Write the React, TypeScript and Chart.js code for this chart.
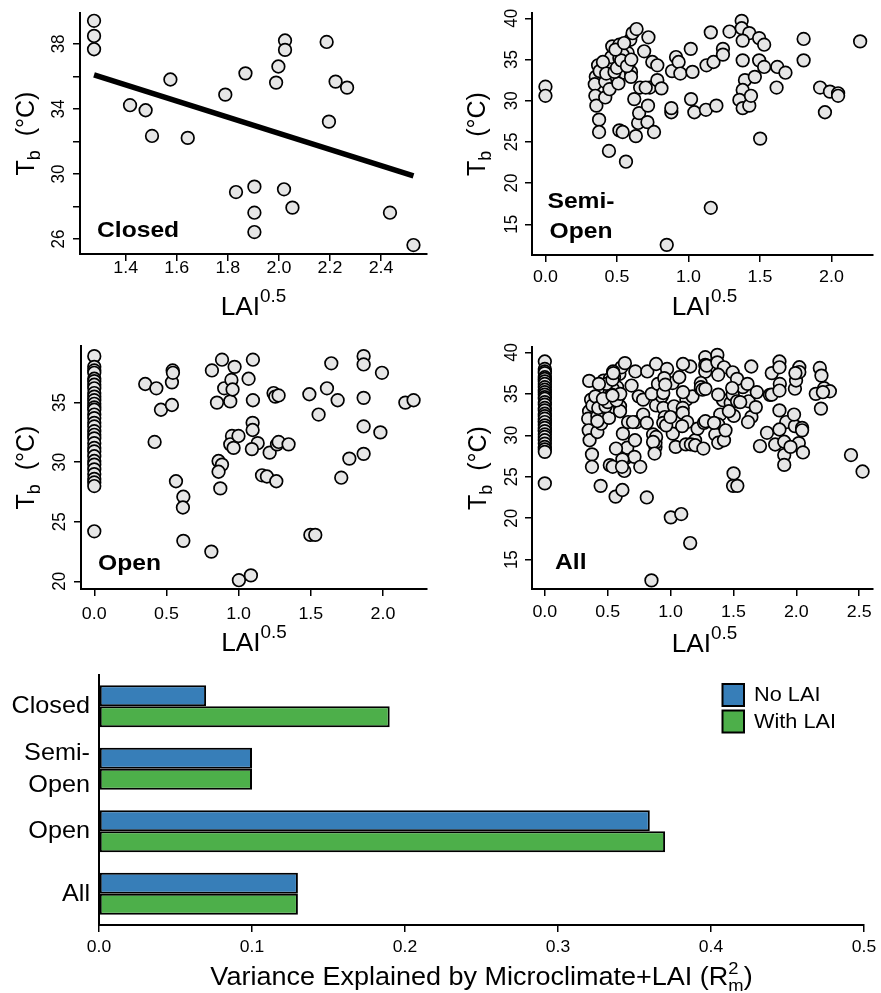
import React, { useEffect, useRef } from "react";
import { Chart, registerables } from "chart.js";
Chart.register(...registerables);

// ---------------- DATA ----------------
const closedLAI = [1.276, 1.276, 1.276, 1.417, 1.478, 1.503, 1.575, 1.643, 1.79, 1.869, 1.832, 1.904, 1.904, 1.904, 1.989, 1.998, 2.024, 2.024, 2.02, 2.053, 2.187, 2.222, 2.267, 2.196, 2.435, 2.527];
const closedTb = [39.42, 38.49, 37.67, 34.23, 33.92, 32.34, 35.81, 32.22, 34.88, 36.19, 28.89, 29.22, 27.62, 26.43, 35.62, 36.61, 38.21, 37.63, 29.06, 27.93, 38.12, 35.68, 35.31, 33.22, 27.62, 25.63];
const closedFitLAI = [1.276, 2.527];
const closedFitTb = [36.09, 29.88];

const semiLAI = [0, 0, 0.352, 0.345, 0.349, 0.356, 0.375, 0.375, 0.444, 0.563,
  0.368, 0.379, 0.418, 0.418, 0.448, 0.46, 0.46, 0.467, 0.517, 0.51,
  0.517, 0.54, 0.517, 0.552, 0.563, 0.586, 0.598, 0.593, 0.609, 0.637,
  0.575, 0.621, 0.632, 0.648, 0.655, 0.662, 0.69, 0.72, 0.717, 0.713,
  0.729, 0.747, 0.782, 0.759, 0.782, 0.811, 0.701, 0.885, 0.88, 0.88,
  0.913, 0.931, 0.943, 1.016, 1.028, 1.018, 1.041, 1.122, 1.126, 1.156,
  1.175, 1.195, 1.156, 0.848, 1.241, 1.241, 1.287, 1.372, 1.372, 1.425,
  1.379, 1.379, 1.395, 1.379, 1.356, 1.379, 1.425, 1.437, 1.464, 1.494,
  1.529, 1.494, 1.529, 1.501, 1.621, 1.678, 1.616, 1.805, 1.805, 1.92,
  1.989, 2.046, 2.046, 1.954, 2.2, 0.402, 0.425, 0.483, 0.54, 0.598,
  0.5, 0.53, 0.57, 0.6, 0.49, 0.55];
const semiTb = [31.7, 30.6, 32.9, 32.0, 30.6, 29.4, 27.7, 26.2, 23.9, 22.6,
  34.3, 33.6, 32.3, 30.4, 31.4, 34.1, 35.3, 36.6, 36.8, 32.1,
  26.4, 26.2, 35.2, 33.4, 35.1, 34.7, 33.5, 37.4, 38.2, 38.7,
  35.8, 30.2, 25.7, 27.3, 28.5, 31.6, 36.0, 37.7, 29.4, 27.4,
  31.6, 34.7, 34.3, 26.2, 32.5, 31.5, 31.6, 33.6, 28.6, 29.1,
  35.3, 34.7, 33.3, 36.3, 33.5, 30.2, 28.6, 28.9, 34.3, 38.3,
  34.7, 29.4, 17.0, 12.5, 36.3, 35.6, 38.4, 39.7, 38.8, 38.2,
  37.3, 34.9, 32.5, 31.3, 30.1, 29.1, 29.4, 30.6, 32.9, 37.6,
  36.8, 34.9, 34.1, 25.4, 34.1, 33.4, 31.6, 37.5, 34.9, 31.6,
  31.1, 30.9, 30.6, 28.6, 37.2, 34.7, 33.3, 33.5, 35.6, 32.9,
  34.0, 34.9, 34.2, 35.0, 36.2, 37.0];

const openLAI = [0, 0, 0, 0, 0, 0, 0, 0, 0, 0, 0, 0, 0, 0, 0, 0, 0, 0, 0, 0, 0, 0, 0, 0, 0, 0, 0, 0, 0, 0, 0, 0, 0,
  0.353, 0.43, 0.462, 0.418, 0.543, 0.538, 0.538, 0.545, 0.566, 0.617,
  0.614, 0.617, 0.811, 0.815, 0.85, 0.885, 0.9, 0.942, 0.972, 0.95,
  0.958, 0.861, 0.885, 0.861, 0.873, 0.954, 0.942, 0.965, 0.999, 1.002,
  1.085, 1.069, 1.099, 1.099, 1.097, 1.097, 1.132, 1.092, 1.162, 1.196,
  1.215, 1.261, 1.242, 1.254, 1.277, 1.266, 1.277, 1.346, 1.49, 1.554,
  1.612, 1.642, 1.686, 1.497, 1.531, 1.711, 1.767, 1.866, 1.866, 1.866,
  1.866, 1.866, 1.993, 1.982, 2.155, 2.212];
const openTb = [38.9, 38.0, 37.7, 37.5, 37.0, 36.8, 36.5, 36.2, 35.8, 35.5, 35.2, 34.9, 34.6, 34.4, 34.0, 33.7, 33.3,
  33.0, 32.6, 32.3, 32.0, 31.6, 31.2, 30.9, 30.5, 30.1, 29.8, 29.4, 29.0, 28.6, 28.3, 28.0, 24.2,
  36.56, 36.2, 34.4, 31.7, 37.7, 36.7, 34.8, 37.5, 28.4, 27.1,
  26.2, 23.4, 22.5, 37.7, 35.0, 38.6, 36.2, 35.1, 38.0, 36.9,
  36.1, 30.1, 29.8, 29.2, 27.8, 32.2, 31.5, 31.2, 32.2, 20.1,
  20.5, 37.0, 38.6, 35.2, 33.3, 32.7, 31.6, 31.1, 28.9, 28.8,
  30.8, 28.4, 35.8, 35.5, 35.6, 31.5, 31.7, 31.5, 35.7, 34.0,
  36.2, 38.3, 35.2, 23.9, 23.9, 28.7, 30.3, 38.9, 38.2, 35.4,
  33.0, 30.7, 37.5, 32.5, 35.0, 35.2];

const allLAI = [...closedLAI, ...semiLAI, ...openLAI];
const allTb = [...closedTb, ...semiTb, ...openTb];

const closedXTicks = [1.4, 1.6, 1.8, 2.0, 2.2, 2.4];
const closedYTicks = [26, 28, 30, 32, 34, 36, 38];
const closedYLabels = [26, 30, 34, 38];
const semiXTicks = [0, 0.5, 1.0, 1.5, 2.0];
const semiYTicks = [15, 20, 25, 30, 35, 40];
const openXTicks = [0, 0.5, 1.0, 1.5, 2.0];
const openYTicks = [20, 25, 30, 35];
const allXTicks = [0, 0.5, 1.0, 1.5, 2.0, 2.5];
const allYTicks = [15, 20, 25, 30, 35, 40];

const barCategories = ["Closed", "Semi-Open", "Open", "All"];
const barCategoryLines = [["Closed"], ["Semi-", "Open"], ["Open"], ["All"]];
const noLAI = [0.07, 0.10, 0.36, 0.13];
const withLAI = [0.19, 0.10, 0.37, 0.13];
const barXTicks = [0, 0.1, 0.2, 0.3, 0.4, 0.5];
const seriesNames = ["No LAI", "With LAI"];

// ---------------- STYLE ----------------
const FAMILY = "'Liberation Sans', Arial, Helvetica, sans-serif";
const BLUE = "#377EB8";
const GREEN = "#4DAF4A";
const POINT_FILL = "#e6e6e6";

type Piece = { t: string; size: number; dy?: number; bold?: boolean; noAdvance?: boolean };

function drawRich(ctx: CanvasRenderingContext2D, pieces: Piece[], x: number, y: number, align: "left" | "center" | "right", rot: boolean, sx: number) {
  ctx.save();
  ctx.translate(x, y);
  if (rot) {
    ctx.rotate(-Math.PI / 2);
    ctx.scale(1, sx);
  } else {
    ctx.scale(sx, 1);
  }
  ctx.textBaseline = "alphabetic";
  ctx.textAlign = "left";
  const widths = pieces.map((p) => {
    ctx.font = `${p.bold ? "bold " : ""}${p.size}px ${FAMILY}`;
    return ctx.measureText(p.t).width;
  });
  let total = 0;
  pieces.forEach((p, i) => { if (!p.noAdvance) total += widths[i]; });
  let cx = align === "left" ? 0 : align === "center" ? -total / 2 : -total;
  pieces.forEach((p, i) => {
    ctx.font = `${p.bold ? "bold " : ""}${p.size}px ${FAMILY}`;
    ctx.fillText(p.t, cx, p.dy || 0);
    if (!p.noAdvance) cx += widths[i];
  });
  ctx.restore();
}

function drawSimple(ctx: CanvasRenderingContext2D, t: string, x: number, y: number, size: number, align: CanvasTextAlign, baseline: CanvasTextBaseline, rot: boolean, sx: number, bold = false) {
  ctx.save();
  ctx.translate(x, y);
  if (rot) {
    ctx.rotate(-Math.PI / 2);
    ctx.scale(1, sx);
  } else {
    ctx.scale(sx, 1);
  }
  ctx.font = `${bold ? "bold " : ""}${size}px ${FAMILY}`;
  ctx.textAlign = align;
  ctx.textBaseline = baseline;
  ctx.fillText(t, 0, 0);
  ctx.restore();
}

type ScatterSpec = {
  box: [number, number, number, number];
  area: [number, number, number, number];
  xRange: [number, number];
  yRange: [number, number];
  xs: number[];
  ys: number[];
  fitX?: number[];
  fitY?: number[];
  xTicks: number[];
  yTicks: number[];
  yLabels: number[];
  xDecimals: number;
  xLabelY: number;
  yLabelX: number;
  xTitleBase: number;
  yTitleBase: number;
  panelLines: string[];
  panelX: number;
  panelBases: number[];
  panelAlign: "left" | "center";
};

const panels: ScatterSpec[] = [
  {
    box: [0, 0, 440, 330], area: [80, 13, 427, 254], xRange: [1.221, 2.58], yRange: [25.08, 39.9],
    xs: closedLAI, ys: closedTb, fitX: closedFitLAI, fitY: closedFitTb,
    xTicks: closedXTicks, yTicks: closedYTicks, yLabels: closedYLabels, xDecimals: 1,
    xLabelY: 268, yLabelX: 59, xTitleBase: 315, yTitleBase: 34,
    panelLines: ["Closed"], panelX: 97, panelBases: [237], panelAlign: "left",
  },
  {
    box: [440, 0, 441, 330], area: [532, 13, 877, 255], xRange: [-0.094, 2.29], yRange: [11.27, 40.65],
    xs: semiLAI, ys: semiTb,
    xTicks: semiXTicks, yTicks: semiYTicks, yLabels: semiYTicks, xDecimals: 1,
    xLabelY: 277, yLabelX: 512, xTitleBase: 315, yTitleBase: 485,
    panelLines: ["Semi-", "Open"], panelX: 581, panelBases: [208, 238], panelAlign: "center",
  },
  {
    box: [0, 330, 440, 330], area: [81, 346, 427, 589], xRange: [-0.092, 2.305], yRange: [19.36, 39.75],
    xs: openLAI, ys: openTb,
    xTicks: openXTicks, yTicks: openYTicks, yLabels: openYTicks, xDecimals: 1,
    xLabelY: 614, yLabelX: 60, xTitleBase: 651, yTitleBase: 34,
    panelLines: ["Open"], panelX: 98, panelBases: [570], panelAlign: "left",
  },
  {
    box: [440, 330, 441, 330], area: [532, 347, 877, 589], xRange: [-0.102, 2.61], yRange: [11.46, 40.65],
    xs: allLAI, ys: allTb,
    xTicks: allXTicks, yTicks: allYTicks, yLabels: allYTicks, xDecimals: 1,
    xLabelY: 612, yLabelX: 512, xTitleBase: 652, yTitleBase: 486,
    panelLines: ["All"], panelX: 555, panelBases: [569], panelAlign: "left",
  },
];

function axisCommon(tickLen: number) {
  return {
    ticks: { display: false },
    grid: { display: true, drawOnChartArea: false, drawTicks: true, tickLength: tickLen, color: "#000", lineWidth: 1.5 },
    border: { display: true, color: "#000", width: 2 },
  };
}

function scatterConfig(p: ScatterSpec): any {
  const [bx, by, bw, bh] = p.box;
  const [al, at, ar, ab] = p.area;
  const pts = p.xs.map((x, i) => ({ x, y: p.ys[i] }));
  const datasets: any[] = [];
  if (p.fitX && p.fitY) {
    datasets.push({
      type: "line",
      data: p.fitX.map((x, i) => ({ x, y: p.fitY![i] })),
      borderColor: "#000", borderWidth: 5.5, pointRadius: 0, order: 0, clip: false, borderCapStyle: "butt",
    });
  }
  datasets.push({
    type: "scatter",
    data: pts,
    pointRadius: 6.3, pointBorderWidth: 1.7, pointBackgroundColor: POINT_FILL, pointBorderColor: "#000",
    order: 1, clip: false,
  });
  const textPlugin = {
    id: "panelText",
    afterDraw(chart: any) {
      const ctx: CanvasRenderingContext2D = chart.ctx;
      const xs = chart.scales.x;
      const ys = chart.scales.y;
      ctx.save();
      ctx.fillStyle = "#000";
      // y tick labels (rotated, like R's default)
      p.yLabels.forEach((v) => {
        drawSimple(ctx, String(v), p.yLabelX - bx, ys.getPixelForValue(v), 17, "center", "middle", true, 1.05);
      });
      // x tick labels
      p.xTicks.forEach((v) => {
        drawSimple(ctx, v.toFixed(p.xDecimals), xs.getPixelForValue(v), p.xLabelY - by, 17, "center", "middle", false, 1.05);
      });
      const cx = (al + ar) / 2 - bx;
      const cy = (at + ab) / 2 - by;
      // x title LAI^0.5
      drawRich(ctx, [{ t: "LAI", size: 25 }, { t: "0.5", size: 18, dy: -13 }], cx, p.xTitleBase - by, "center", false, 1.05);
      // y title T_b (°C)
      drawRich(ctx, [{ t: "T", size: 25 }, { t: "b", size: 18, dy: 6 }, { t: "  (°C)", size: 25 }], p.yTitleBase - bx, cy, "center", true, 1.05);
      // panel label
      p.panelLines.forEach((line, i) => {
        drawSimple(ctx, line, p.panelX - bx, p.panelBases[i] - by, 22, p.panelAlign, "alphabetic", false, 1.12, true);
      });
      ctx.restore();
    },
  };
  return {
    type: "scatter",
    data: { datasets },
    options: {
      responsive: false,
      animation: false,
      devicePixelRatio: 1,
      events: [],
      layout: { padding: { left: 0, top: at - by, right: bx + bw - ar, bottom: 0 } },
      plugins: { legend: { display: false }, tooltip: { enabled: false } },
      scales: {
        x: {
          type: "linear", min: p.xRange[0], max: p.xRange[1],
          afterFit: (s: any) => { s.height = by + bh - ab; },
          afterBuildTicks: (s: any) => { s.ticks = p.xTicks.map((v) => ({ value: v })); },
          ...axisCommon(7),
        },
        y: {
          type: "linear", min: p.yRange[0], max: p.yRange[1],
          afterFit: (s: any) => { s.width = al - bx; },
          afterBuildTicks: (s: any) => { s.ticks = p.yTicks.map((v) => ({ value: v })); },
          ...axisCommon(7),
        },
      },
    },
    plugins: [textPlugin],
  };
}

const BAR_BOX: [number, number, number, number] = [0, 660, 881, 333];
const BAR_AREA: [number, number, number, number] = [99, 675, 864, 925];

function barConfig(): any {
  const [bx, by, bw, bh] = BAR_BOX;
  const [al, at, ar, ab] = BAR_AREA;
  const colors = [BLUE, GREEN];
  const textPlugin = {
    id: "barText",
    afterDraw(chart: any) {
      const ctx: CanvasRenderingContext2D = chart.ctx;
      const xs = chart.scales.x;
      const ys = chart.scales.y;
      ctx.save();
      ctx.fillStyle = "#000";
      barCategoryLines.forEach((lines, i) => {
        const c = ys.getPixelForValue(i);
        const lh = 32;
        lines.forEach((ln, j) => {
          const yy = c + (j - (lines.length - 1) / 2) * lh;
          drawSimple(ctx, ln, 90 - bx, yy, 24.5, "right", "middle", false, 1.03);
        });
      });
      barXTicks.forEach((v) => {
        drawSimple(ctx, v.toFixed(1), xs.getPixelForValue(v), 947 - by, 17, "center", "middle", false, 1.03);
      });
      drawRich(ctx, [
        { t: "Variance Explained by Microclimate+LAI (R", size: 25 },
        { t: "2", size: 17, dy: -11, noAdvance: true },
        { t: "m", size: 17, dy: 6 },
        { t: ")", size: 25 },
      ], (al + ar) / 2 - bx, 985 - by, "center", false, 1.08);
      // legend
      seriesNames.forEach((name, i) => {
        const top = (i === 0 ? 684 : 710.5) - by;
        ctx.fillStyle = colors[i];
        ctx.fillRect(722.5 - bx, top, 21.5, 22);
        ctx.strokeStyle = "#000";
        ctx.lineWidth = 2;
        ctx.strokeRect(722.5 - bx, top, 21.5, 22);
        ctx.fillStyle = "#000";
        drawSimple(ctx, name, 754 - bx, top + 11.5, 20.5, "left", "middle", false, 1.06);
      });
      ctx.restore();
    },
  };
  return {
    type: "bar",
    data: {
      labels: barCategories,
      datasets: [noLAI, withLAI].map((d, i) => ({
        label: seriesNames[i],
        data: d,
        backgroundColor: colors[i],
        borderColor: "#000",
        borderWidth: 2,
        borderSkipped: false,
        categoryPercentage: 0.672,
        barPercentage: 1.0,
      })),
    },
    options: {
      indexAxis: "y",
      responsive: false,
      animation: false,
      devicePixelRatio: 1,
      events: [],
      layout: { padding: { left: 0, top: at - by, right: bx + bw - ar, bottom: 0 } },
      plugins: { legend: { display: false }, tooltip: { enabled: false } },
      scales: {
        x: {
          type: "linear", min: 0, max: 0.5,
          afterFit: (s: any) => { s.height = by + bh - ab; },
          afterBuildTicks: (s: any) => { s.ticks = barXTicks.map((v) => ({ value: v })); },
          ...axisCommon(7),
        },
        y: {
          type: "category",
          afterFit: (s: any) => { s.width = al - bx; },
          ticks: { display: false },
          grid: { display: false, drawTicks: false },
          border: { display: true, color: "#000", width: 2 },
        },
      },
    },
    plugins: [textPlugin],
  };
}

function ChartCanvas({ box, make }: { box: [number, number, number, number]; make: () => any }) {
  const ref = useRef<HTMLCanvasElement | null>(null);
  useEffect(() => {
    if (!ref.current) return;
    const chart = new Chart(ref.current, make());
    return () => chart.destroy();
  }, []);
  return (
    <canvas
      ref={ref}
      width={box[2]}
      height={box[3]}
      style={{ position: "absolute", left: box[0], top: box[1], width: box[2], height: box[3] }}
    />
  );
}

export default function App() {
  return (
    <div style={{ position: "absolute", left: 0, top: 0, width: 881, height: 993, background: "#fff" }}>
      {panels.map((p, i) => (
        <ChartCanvas key={i} box={p.box} make={() => scatterConfig(p)} />
      ))}
      <ChartCanvas box={BAR_BOX} make={barConfig} />
    </div>
  );
}
